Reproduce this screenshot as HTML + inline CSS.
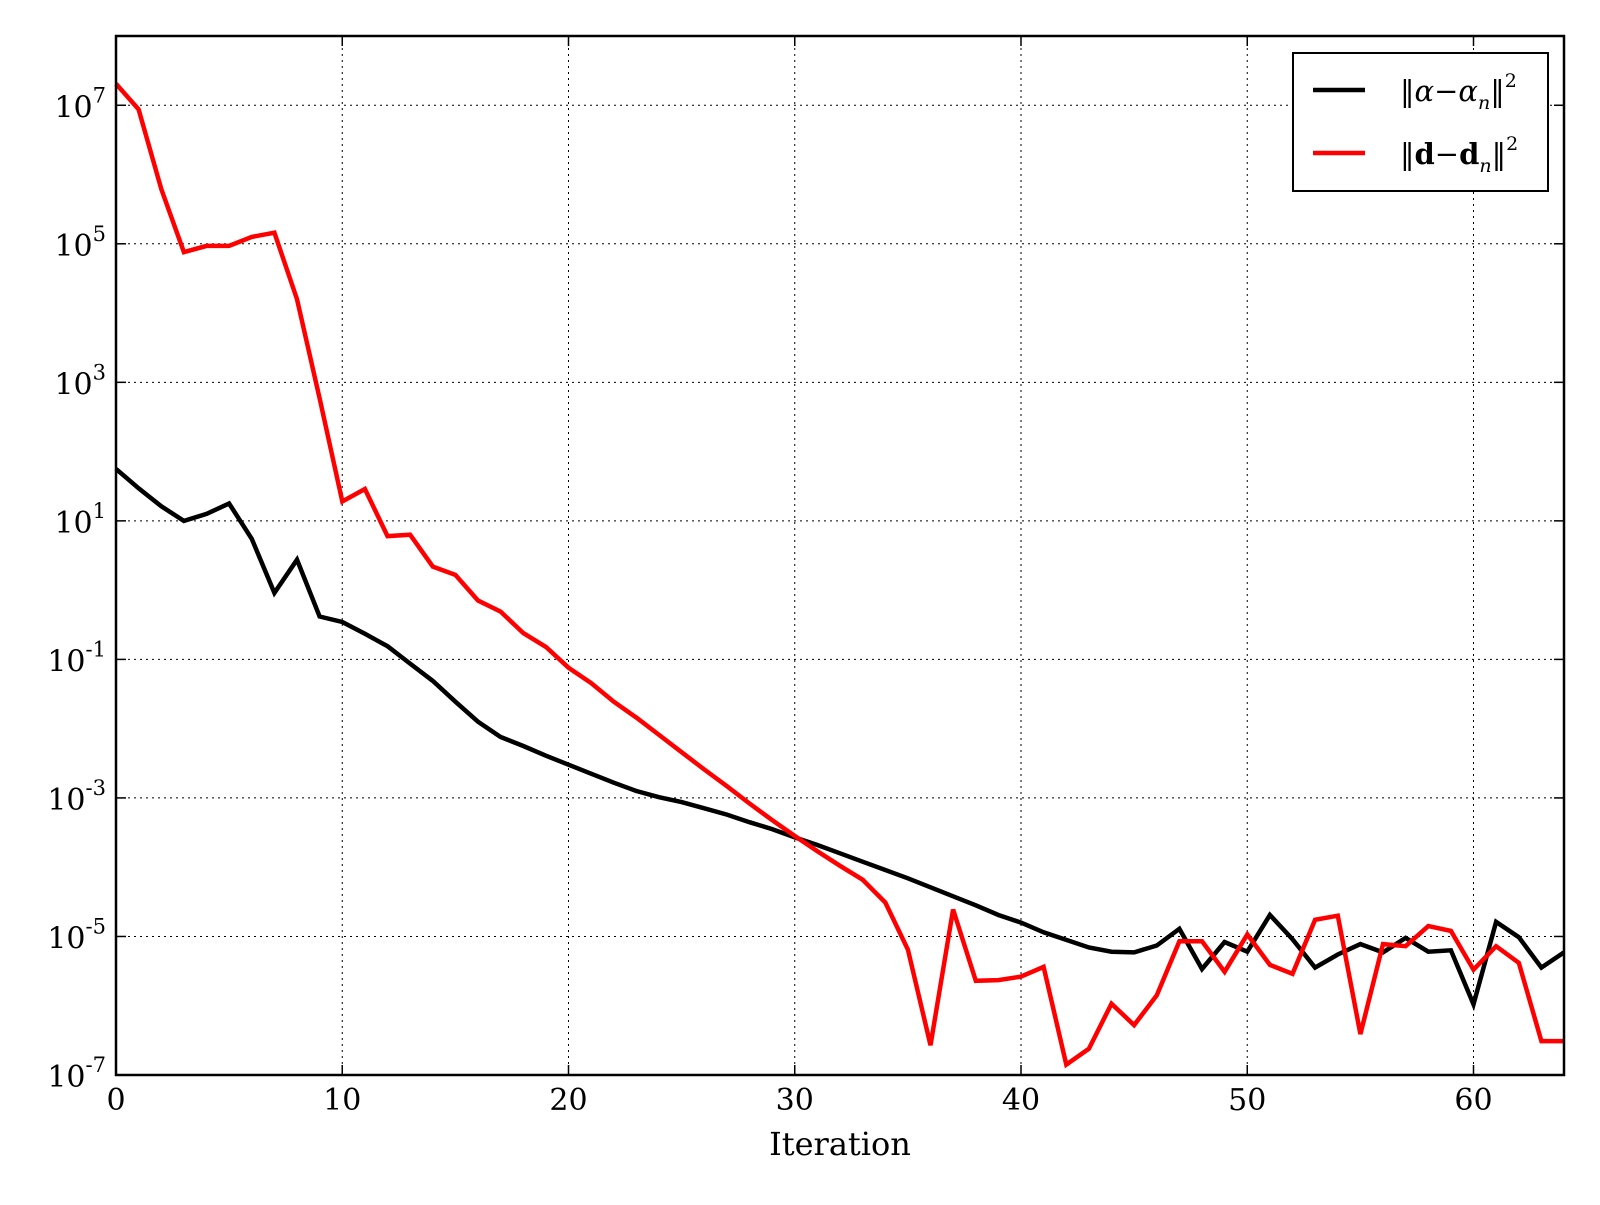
<!DOCTYPE html>
<html><head><meta charset="utf-8"><style>
body{margin:0;background:#fff}
svg text{font-family:"DejaVu Serif","Liberation Serif",serif;fill:#000}
</style></head><body>
<svg id="chart" width="1600" height="1200" viewBox="0 0 1600 1200" xmlns="http://www.w3.org/2000/svg">
<g id="grid"></g>
<g id="series"></g>
<rect x="116" y="36" width="1448" height="1039" fill="none" stroke="#000" stroke-width="2.5"/>
<g id="ticks"></g>
<text x="840" y="1155" font-size="32" text-anchor="middle">Iteration</text>
<g>
<rect x="1293" y="53" width="255" height="138" fill="#fff" stroke="#000" stroke-width="2"/>
<g>
<line x1="1313" y1="90" x2="1365" y2="90" stroke="#000" stroke-width="4.5"/>
<text x="1400" y="101" font-size="29">‖<tspan font-style="italic">α</tspan>−<tspan font-style="italic">α</tspan><tspan font-style="italic" font-size="19" dy="8">n</tspan><tspan dy="-8">‖</tspan><tspan font-size="19" dy="-14">2</tspan></text>
</g>
<g>
<line x1="1313" y1="153" x2="1365" y2="153" stroke="#f00" stroke-width="4.5"/>
<text x="1400" y="164" font-size="29">‖<tspan font-weight="bold">d</tspan>−<tspan font-weight="bold">d</tspan><tspan font-style="italic" font-size="19" dy="8">n</tspan><tspan dy="-8">‖</tspan><tspan font-size="19" dy="-14">2</tspan></text>
</g>
</g>
</svg>
<script>
const iterations = Array.from({length:65},(_,i)=>i);
const alphaLog = [1.75,1.47,1.21,1.0,1.1,1.25,0.74,-0.04,0.44,-0.38,-0.46,-0.63,-0.81,-1.06,-1.31,-1.61,-1.9,-2.12,-2.25,-2.39,-2.52,-2.65,-2.78,-2.9,-2.99,-3.06,-3.15,-3.24,-3.35,-3.45,-3.57,-3.68,-3.8,-3.92,-4.04,-4.16,-4.29,-4.42,-4.55,-4.69,-4.8,-4.94,-5.05,-5.16,-5.22,-5.23,-5.13,-4.89,-5.47,-5.08,-5.22,-4.69,-5.04,-5.45,-5.26,-5.11,-5.23,-5.02,-5.22,-5.2,-5.98,-4.79,-5.01,-5.45,-5.23];
const dLog = [7.31,6.94,5.79,4.88,4.97,4.97,5.1,5.16,4.2,2.77,1.28,1.46,0.78,0.8,0.34,0.22,-0.15,-0.31,-0.62,-0.82,-1.12,-1.34,-1.61,-1.84,-2.09,-2.34,-2.59,-2.83,-3.08,-3.32,-3.55,-3.77,-3.98,-4.18,-4.51,-5.19,-6.57,-4.61,-5.64,-5.63,-5.58,-5.44,-6.85,-6.62,-5.97,-6.28,-5.85,-5.07,-5.07,-5.51,-4.97,-5.41,-5.54,-4.76,-4.7,-6.41,-5.11,-5.14,-4.85,-4.92,-5.48,-5.14,-5.38,-6.51,-6.51];
const xTicks = [0,10,20,30,40,50,60];
const yTickExps = [7,5,3,1,-1,-3,-5,-7];
const yGridExps = [7,5,3,1,-1,-3,-5];

const X0=116,X1=1564,Y0=36,Y1=1075;
const xs = v => X0 + (v-0)/(64-0)*(X1-X0);
const ys = l => Y1 - (l-(-7))/(8-(-7))*(Y1-Y0);
const NS="http://www.w3.org/2000/svg";
function mk(tag,attrs,parent){const e=document.createElementNS(NS,tag);for(const k in attrs)e.setAttribute(k,attrs[k]);parent.appendChild(e);return e;}
const grid=document.getElementById('grid'), ticks=document.getElementById('ticks'), series=document.getElementById('series');
xTicks.forEach(t=>{
  if(t>0){const g=mk('line',{x1:xs(t),x2:xs(t),y1:Y0,y2:Y1,stroke:'#000','stroke-width':1,'stroke-dasharray':'2,4'},grid);
  
  }
  const a=mk('line',{x1:xs(t),x2:xs(t),y1:Y1,y2:Y1-10,stroke:'#000','stroke-width':1.5},ticks);
  
  
  const b=mk('line',{x1:xs(t),x2:xs(t),y1:Y0,y2:Y0+10,stroke:'#000','stroke-width':1.5},ticks);
  
  
  const tx=mk('text',{x:xs(t),y:Y1+35,'font-size':30,'text-anchor':'middle'},ticks);
  tx.textContent=t;
  
  
});
yGridExps.forEach(e=>{
  const g=mk('line',{x1:X0,x2:X1,y1:ys(e),y2:ys(e),stroke:'#000','stroke-width':1,'stroke-dasharray':'2,4'},grid);
  
  
});
yTickExps.forEach(e=>{
  const a=mk('line',{x1:X0,x2:X0+10,y1:ys(e),y2:ys(e),stroke:'#000','stroke-width':1.5},ticks);
  
  
  const b=mk('line',{x1:X1,x2:X1-10,y1:ys(e),y2:ys(e),stroke:'#000','stroke-width':1.5},ticks);
  
  
  const tx=mk('text',{x:X0-10,y:ys(e)+12,'font-size':30,'text-anchor':'end'},ticks);
  tx.innerHTML='10<tspan font-size="21" dy="-15">'+e+'</tspan>';
  
  
});
function drawLine(vals,color,name){
  const pts=vals.map((v,i)=>xs(iterations[i]).toFixed(1)+','+ys(v).toFixed(1)).join(' ');
  const p=mk('polyline',{points:pts,fill:'none',stroke:color,'stroke-width':4.5,'stroke-linejoin':'miter'},series);
  
  
}
drawLine(alphaLog,'#000','alpha-error-line');
drawLine(dLog,'#f00','d-error-line');
</script>
</body></html>
